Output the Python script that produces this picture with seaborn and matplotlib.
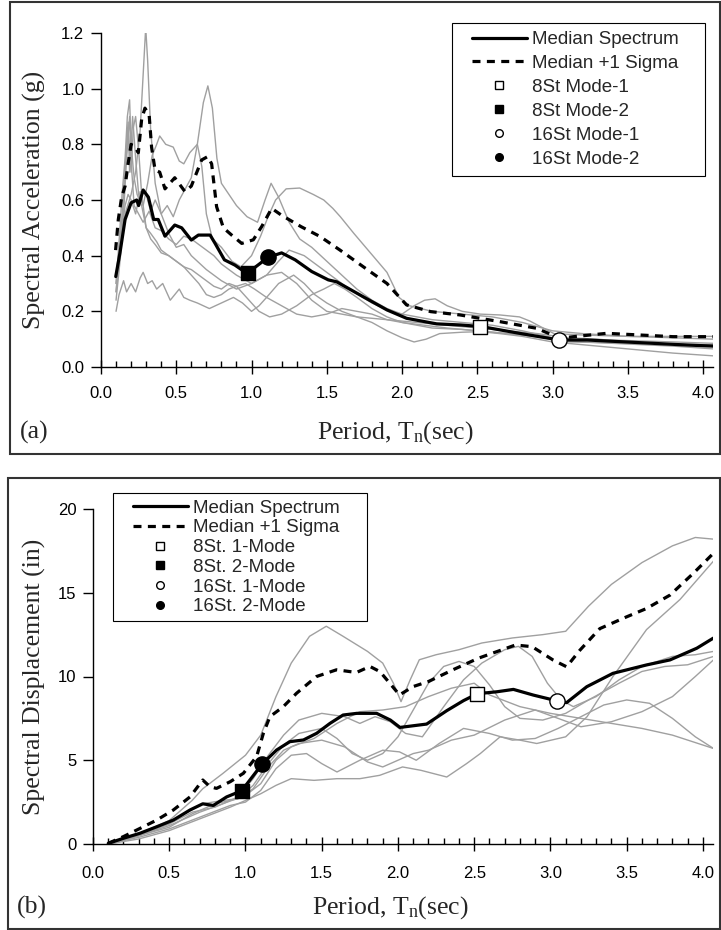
import matplotlib
matplotlib.use("Agg")
import matplotlib.pyplot as plt
import seaborn as sns
from matplotlib.lines import Line2D
from matplotlib.patches import Rectangle
from matplotlib.ticker import MultipleLocator, FormatStrFormatter

sns.set_theme(style="ticks")
plt.rcParams['font.family'] = ['Liberation Sans', 'DejaVu Sans']
plt.rcParams['mathtext.fontset'] = 'custom'
plt.rcParams['mathtext.rm'] = 'Liberation Serif'
plt.rcParams['mathtext.it'] = 'Liberation Serif:italic'

SERIF = ['Liberation Serif', 'DejaVu Serif']
GRAY = '#a0a0a0'

# ---------------- data: panel (a) spectral acceleration ----------------
med_a_t = [0.098, 0.126, 0.16, 0.20, 0.237, 0.25, 0.28, 0.315, 0.35, 0.38, 0.425, 0.49,
           0.536, 0.60, 0.647, 0.725, 0.757, 0.82, 0.89, 0.97, 1.11, 1.20, 1.29, 1.40,
           1.51, 1.566, 1.74, 1.90, 2.03, 2.23, 2.39, 2.53, 2.78, 3.045, 3.14, 3.23,
           3.45, 3.67, 3.89, 4.07]
med_a = [0.325, 0.41, 0.53, 0.59, 0.60, 0.58, 0.636, 0.61, 0.53, 0.53, 0.47, 0.51,
         0.50, 0.456, 0.474, 0.474, 0.445, 0.385, 0.366, 0.336, 0.394, 0.41, 0.385, 0.343,
         0.313, 0.306, 0.253, 0.205, 0.175, 0.155, 0.151, 0.145, 0.121, 0.097, 0.097, 0.097,
         0.091, 0.085, 0.079, 0.075]

sig_a_t = [0.097, 0.115, 0.137, 0.16, 0.18, 0.20, 0.226, 0.248, 0.27, 0.292, 0.32, 0.336,
           0.359, 0.39, 0.425, 0.49, 0.558, 0.60, 0.669, 0.709, 0.735, 0.768, 0.813, 0.868,
           0.935, 1.012, 1.067, 1.134, 1.20, 1.33, 1.455, 1.588, 1.743, 1.90, 2.03, 2.19,
           2.385, 2.65, 2.895, 3.05, 3.14, 3.36, 3.58, 3.80, 4.07]
sig_a = [0.42, 0.53, 0.61, 0.65, 0.73, 0.80, 0.79, 0.77, 0.89, 0.93, 0.905, 0.79,
         0.708, 0.70, 0.64, 0.68, 0.63, 0.65, 0.744, 0.756, 0.73, 0.576, 0.50, 0.474,
         0.444, 0.457, 0.504, 0.57, 0.545, 0.504, 0.469, 0.42, 0.36, 0.30, 0.223, 0.199,
         0.187, 0.163, 0.139, 0.103, 0.109, 0.121, 0.115, 0.109, 0.109]

rec1_a_t = [0.10, 0.13, 0.16, 0.20, 0.23, 0.26, 0.28, 0.297, 0.31, 0.33, 0.36, 0.40, 0.45, 0.50,
            0.55, 0.60, 0.70, 0.80, 0.90, 1.00, 1.10, 1.20, 1.30, 1.40, 1.50, 1.70, 1.90, 2.10,
            2.30, 2.50, 2.70, 2.90, 3.10, 3.30, 3.50, 3.70, 3.90, 4.07]
rec1_a = [0.30, 0.45, 0.55, 0.62, 0.70, 0.85, 1.05, 1.22, 1.10, 0.85, 0.66, 0.55, 0.48, 0.43,
          0.44, 0.40, 0.35, 0.31, 0.28, 0.30, 0.33, 0.34, 0.30, 0.24, 0.20, 0.18, 0.17, 0.16,
          0.15, 0.14, 0.13, 0.12, 0.105, 0.10, 0.09, 0.085, 0.08, 0.075]

rec2_a_t = [0.10, 0.12, 0.14, 0.16, 0.18, 0.20, 0.23, 0.26, 0.30, 0.33, 0.36, 0.40, 0.44, 0.48,
            0.52, 0.56, 0.60, 0.64, 0.68, 0.71, 0.74, 0.77, 0.80, 0.85, 0.90, 0.97, 1.04, 1.09,
            1.13, 1.18, 1.25, 1.32, 1.40, 1.50, 1.60, 1.70, 1.80, 1.90, 2.00, 2.20, 2.40, 2.60,
            2.80, 3.00, 3.20, 3.50, 3.80, 4.07]
rec2_a = [0.33, 0.42, 0.50, 0.58, 0.62, 0.60, 0.55, 0.63, 0.62, 0.56, 0.60, 0.55, 0.58, 0.54,
          0.60, 0.64, 0.68, 0.80, 0.95, 1.01, 0.93, 0.75, 0.66, 0.62, 0.58, 0.54, 0.52, 0.60,
          0.66, 0.61, 0.52, 0.46, 0.43, 0.38, 0.33, 0.28, 0.24, 0.21, 0.19, 0.17, 0.16, 0.15,
          0.13, 0.105, 0.10, 0.095, 0.09, 0.085]

rec3_a_t = [0.10, 0.12, 0.14, 0.16, 0.18, 0.19, 0.21, 0.23, 0.25, 0.28, 0.31, 0.34, 0.37, 0.39,
            0.43, 0.48, 0.52, 0.55, 0.59, 0.64, 0.67, 0.70, 0.74, 0.80, 0.87, 0.93, 1.00, 1.06,
            1.11, 1.16, 1.23, 1.32, 1.41, 1.48, 1.54, 1.59, 1.68, 1.79, 1.90, 1.98, 2.05, 2.20,
            2.40, 2.60, 2.80, 3.00, 3.20, 3.50, 3.80, 4.07]
rec3_a = [0.27, 0.40, 0.55, 0.72, 0.88, 0.70, 0.90, 0.75, 0.62, 0.58, 0.66, 0.76, 0.80, 0.83,
          0.80, 0.79, 0.74, 0.73, 0.77, 0.80, 0.72, 0.55, 0.46, 0.43, 0.38, 0.36, 0.40, 0.47,
          0.54, 0.60, 0.64, 0.643, 0.62, 0.60, 0.57, 0.54, 0.48, 0.41, 0.34, 0.25, 0.22, 0.20,
          0.19, 0.18, 0.16, 0.13, 0.12, 0.11, 0.105, 0.10]

rec4_a_t = [0.10, 0.12, 0.15, 0.17, 0.20, 0.23, 0.26, 0.28, 0.31, 0.34, 0.37, 0.41, 0.46, 0.49,
            0.52, 0.55, 0.59, 0.64, 0.72, 0.80, 0.88, 0.94, 1.00, 1.05, 1.10, 1.18, 1.28, 1.35,
            1.42, 1.50, 1.60, 1.70, 1.80, 1.90, 2.00, 2.08, 2.16, 2.25, 2.40, 2.52, 2.65, 2.80,
            3.00, 3.20, 3.40, 3.60, 3.80, 4.07]
rec4_a = [0.20, 0.26, 0.31, 0.27, 0.30, 0.27, 0.32, 0.34, 0.30, 0.31, 0.28, 0.30, 0.24, 0.26,
          0.28, 0.25, 0.24, 0.23, 0.21, 0.23, 0.25, 0.23, 0.20, 0.22, 0.25, 0.30, 0.33, 0.30,
          0.26, 0.23, 0.20, 0.18, 0.16, 0.13, 0.105, 0.09, 0.10, 0.12, 0.125, 0.127, 0.12, 0.11,
          0.09, 0.08, 0.07, 0.06, 0.05, 0.04]

rec5_a_t = [0.10, 0.13, 0.15, 0.17, 0.19, 0.205, 0.22, 0.25, 0.28, 0.32, 0.36, 0.40, 0.45, 0.50,
            0.55, 0.60, 0.65, 0.70, 0.75, 0.80, 0.90, 1.00, 1.10, 1.18, 1.25, 1.35, 1.45, 1.55,
            1.65, 1.80, 1.92, 2.00, 2.08, 2.15, 2.22, 2.30, 2.40, 2.52, 2.65, 2.78, 2.85, 2.92,
            3.01, 3.20, 3.50, 3.80, 4.07]
rec5_a = [0.24, 0.40, 0.55, 0.75, 0.90, 0.70, 0.58, 0.55, 0.52, 0.56, 0.50, 0.49, 0.46, 0.44,
          0.47, 0.46, 0.44, 0.42, 0.40, 0.37, 0.33, 0.30, 0.33, 0.38, 0.42, 0.40, 0.36, 0.32,
          0.28, 0.23, 0.20, 0.19, 0.22, 0.24, 0.245, 0.22, 0.20, 0.19, 0.187, 0.18, 0.165, 0.145,
          0.12, 0.115, 0.11, 0.11, 0.11]

rec6_a_t = [0.10, 0.12, 0.14, 0.16, 0.175, 0.19, 0.20, 0.22, 0.24, 0.27, 0.30, 0.33, 0.37, 0.40,
            0.45, 0.50, 0.55, 0.60, 0.65, 0.70, 0.75, 0.80, 0.85, 0.90, 0.96, 1.02, 1.10, 1.20,
            1.30, 1.40, 1.50, 1.60, 1.70, 1.80, 1.90, 2.00, 2.20, 2.40, 2.60, 2.80, 3.00, 3.20,
            3.40, 3.60, 3.80, 4.07]
rec6_a = [0.30, 0.45, 0.62, 0.75, 0.90, 0.96, 0.80, 0.68, 0.62, 0.58, 0.50, 0.48, 0.45, 0.42,
          0.40, 0.38, 0.36, 0.33, 0.30, 0.26, 0.25, 0.26, 0.28, 0.29, 0.30, 0.28, 0.25, 0.22,
          0.19, 0.18, 0.19, 0.21, 0.20, 0.19, 0.17, 0.16, 0.14, 0.135, 0.125, 0.115, 0.10, 0.09,
          0.085, 0.08, 0.075, 0.065]

rec7_a_t = [0.10, 0.12, 0.14, 0.16, 0.18, 0.20, 0.215, 0.23, 0.25, 0.27, 0.30, 0.33, 0.36, 0.40,
            0.45, 0.50, 0.55, 0.60, 0.65, 0.70, 0.75, 0.80, 0.85, 0.90, 0.95, 1.00, 1.05, 1.12,
            1.20, 1.30, 1.40, 1.48, 1.55, 1.62, 1.70, 1.80, 1.90, 2.00, 2.15, 2.30, 2.50, 2.70,
            2.90, 3.10, 3.30, 3.60, 4.07]
rec7_a = [0.27, 0.38, 0.50, 0.70, 0.86, 0.70, 0.86, 0.90, 0.78, 0.62, 0.50, 0.46, 0.44, 0.41,
          0.40, 0.38, 0.36, 0.35, 0.33, 0.31, 0.29, 0.28, 0.30, 0.29, 0.26, 0.23, 0.20, 0.18,
          0.19, 0.22, 0.26, 0.28, 0.30, 0.28, 0.25, 0.21, 0.18, 0.16, 0.15, 0.14, 0.13, 0.12,
          0.11, 0.09, 0.088, 0.085, 0.08]

# ---------------- data: panel (b) spectral displacement ----------------
med_b_t = [0.10, 0.199, 0.308, 0.418, 0.527, 0.636, 0.72, 0.789, 0.876, 0.975, 1.11, 1.204,
           1.291, 1.38, 1.467, 1.554, 1.64, 1.73, 1.86, 1.95, 2.013, 2.188, 2.32, 2.43, 2.52,
           2.65, 2.757, 2.888, 3.045, 3.106, 3.238, 3.41, 3.63, 3.784, 3.96, 4.068]
med_b = [0.04, 0.34, 0.64, 1.03, 1.43, 2.03, 2.40, 2.30, 2.81, 3.18, 4.78, 5.61,
         6.11, 6.21, 6.61, 7.20, 7.70, 7.80, 7.80, 7.4, 6.96, 7.16, 7.96, 8.56, 8.97,
         9.09, 9.23, 8.89, 8.54, 8.44, 9.39, 10.19, 10.69, 10.99, 11.69, 12.29]

sig_b_t = [0.10, 0.199, 0.308, 0.418, 0.527, 0.636, 0.72, 0.767, 0.81, 0.90, 0.986, 1.073,
           1.117, 1.16, 1.248, 1.335, 1.466, 1.597, 1.728, 1.816, 1.882, 1.947, 2.01, 2.1,
           2.2, 2.36, 2.53, 2.77, 2.88, 3.018, 3.106, 3.193, 3.324, 3.499, 3.63, 3.784, 3.937,
           4.068]
sig_b = [0.04, 0.44, 0.93, 1.43, 2.03, 2.81, 3.82, 3.42, 3.32, 3.72, 4.22, 5.22,
         6.6, 7.6, 8.2, 9.0, 10.0, 10.4, 10.24, 10.6, 10.29, 9.59, 8.9, 9.4,
         9.7, 10.4, 11.1, 11.88, 11.78, 10.98, 10.58, 11.57, 12.86, 13.56, 14.06, 14.86, 16.16,
         17.35]

rec1_b_t = [0.10, 0.30, 0.50, 0.65, 0.72, 0.85, 1.00, 1.10, 1.20, 1.30, 1.42, 1.53, 1.64, 1.80,
            1.90, 1.97, 2.02, 2.08, 2.14, 2.25, 2.40, 2.55, 2.75, 2.95, 3.10, 3.25, 3.40, 3.60,
            3.80, 3.95, 4.07]
rec1_b = [0.0, 0.6, 1.4, 2.6, 3.3, 4.2, 5.3, 6.5, 8.8, 10.8, 12.4, 13.0, 12.4, 11.5,
          10.8, 9.6, 8.5, 9.8, 11.0, 11.3, 11.6, 12.0, 12.3, 12.5, 12.7, 14.2, 15.5, 16.8,
          17.8, 18.3, 18.2]

rec2_b_t = [0.10, 0.30, 0.50, 0.70, 0.90, 1.00, 1.10, 1.20, 1.30, 1.45, 1.60, 1.75, 1.88, 2.03,
            2.15, 2.32, 2.45, 2.54, 2.67, 2.80, 2.91, 3.10, 3.24, 3.41, 3.63, 3.85, 4.07]
rec2_b = [0.0, 0.3, 0.8, 1.5, 2.2, 2.6, 3.0, 3.5, 3.9, 3.8, 3.9, 3.9, 4.1, 4.6,
          4.4, 4.0, 4.8, 5.4, 6.4, 6.2, 6.0, 6.4, 7.6, 10.0, 12.8, 14.6, 16.9]

rec3_b_t = [0.10, 0.30, 0.50, 0.70, 0.85, 1.00, 1.10, 1.20, 1.30, 1.45, 1.60, 1.75, 1.90, 2.05,
            2.20, 2.35, 2.50, 2.60, 2.80, 3.00, 3.20, 3.40, 3.60, 3.80, 4.07]
rec3_b = [0.0, 0.5, 1.1, 1.9, 2.4, 2.9, 3.6, 5.0, 5.8, 6.3, 7.2, 7.9, 8.0, 8.2,
          8.8, 9.3, 9.6, 8.9, 8.2, 7.8, 7.5, 7.2, 6.9, 6.5, 5.7]

rec4_b_t = [0.10, 0.30, 0.50, 0.70, 0.90, 1.00, 1.10, 1.20, 1.30, 1.40, 1.50, 1.60, 1.75, 1.90,
            2.01, 2.12, 2.27, 2.43, 2.60, 2.75, 2.90, 3.05, 3.20, 3.35, 3.50, 3.65, 3.80, 3.95,
            4.07]
rec4_b = [0.0, 0.4, 0.9, 1.6, 2.3, 2.5, 3.2, 4.5, 5.3, 5.4, 4.8, 4.3, 5.0, 5.6,
          5.5, 5.0, 6.0, 6.9, 6.6, 6.2, 6.3, 6.9, 7.6, 8.3, 8.6, 8.4, 7.5, 6.4,
          5.7]

rec5_b_t = [0.10, 0.30, 0.50, 0.65, 0.80, 0.95, 1.05, 1.15, 1.25, 1.35, 1.50, 1.65, 1.75, 1.85,
            1.95, 2.05, 2.16, 2.30, 2.43, 2.55, 2.70, 2.79, 2.88, 2.98, 3.07, 3.15, 3.30, 3.45,
            3.60, 3.80, 3.95, 4.07]
rec5_b = [0.0, 0.6, 1.2, 1.9, 2.2, 2.8, 3.9, 5.3, 6.5, 7.4, 7.8, 7.6, 7.2, 7.6,
          7.3, 6.6, 6.4, 8.2, 9.8, 10.8, 11.6, 11.8, 11.2, 9.6, 8.6, 8.2, 8.8, 9.8,
          10.6, 11.2, 11.3, 11.5]

rec6_b_t = [0.10, 0.30, 0.50, 0.65, 0.80, 0.95, 1.05, 1.15, 1.25, 1.35, 1.50, 1.60, 1.70, 1.80,
            1.90, 2.00, 2.10, 2.20, 2.30, 2.40, 2.50, 2.60, 2.70, 2.80, 2.95, 3.10, 3.25, 3.45,
            3.60, 3.75, 3.90, 4.07]
rec6_b = [0.0, 0.5, 1.0, 1.8, 2.4, 2.7, 3.5, 4.8, 5.9, 6.6, 6.9, 6.3, 5.4, 5.0,
          5.4, 6.4, 8.0, 9.6, 10.6, 10.9, 10.6, 9.5, 8.2, 7.5, 7.4, 7.8, 8.6, 9.6,
          10.3, 10.6, 10.7, 11.2]

rec7_b_t = [0.10, 0.30, 0.50, 0.60, 0.72, 0.85, 0.95, 1.05, 1.15, 1.25, 1.35, 1.50, 1.65, 1.80,
            1.90, 2.00, 2.10, 2.20, 2.35, 2.50, 2.70, 2.90, 3.05, 3.20, 3.40, 3.60, 3.80, 3.95,
            4.07]
rec7_b = [0.0, 0.5, 1.2, 1.8, 2.4, 2.6, 2.7, 3.3, 4.6, 5.6, 6.0, 6.2, 5.8, 4.9,
          4.6, 5.0, 5.4, 5.6, 6.2, 6.5, 7.4, 8.0, 7.5, 7.0, 7.3, 7.9, 8.8, 10.0,
          11.0]

# modal periods and spectral values (8St M1, 8St M2, 16St M1, 16St M2)
mode_t = [2.52, 0.975, 3.045, 1.11]
mode_sa = [0.145, 0.336, 0.097, 0.394]
mode_sd = [8.97, 3.18, 8.54, 4.78]
mode_marker = ['s', 's', 'o', 'o']
mode_face = ['white', 'black', 'white', 'black']

labels_a = ['Median Spectrum', 'Median +1 Sigma', '8St Mode-1', '8St Mode-2',
            '16St Mode-1', '16St Mode-2']
labels_b = ['Median Spectrum', 'Median +1 Sigma', '8St. 1-Mode', '8St. 2-Mode',
            '16St. 1-Mode', '16St. 2-Mode']

recs_a = [(rec1_a_t, rec1_a), (rec2_a_t, rec2_a), (rec3_a_t, rec3_a), (rec4_a_t, rec4_a),
          (rec5_a_t, rec5_a), (rec6_a_t, rec6_a), (rec7_a_t, rec7_a)]
recs_b = [(rec1_b_t, rec1_b), (rec2_b_t, rec2_b), (rec3_b_t, rec3_b), (rec4_b_t, rec4_b),
          (rec5_b_t, rec5_b), (rec6_b_t, rec6_b), (rec7_b_t, rec7_b)]

DASH = (0, (2.5, 2.0))
LEG_FS = 13.5

fig = plt.figure(figsize=(7.21, 9.30), dpi=100)
ax_a = fig.add_axes([101 / 721, 1 - 367 / 930, 612 / 721, 334 / 930])
ax_b = fig.add_axes([93 / 721, 1 - 844 / 930, 620 / 721, 335 / 930])


def draw_panel(ax, recs, mt, mv, st, sv, mode_v, xpad):
    for t, v in recs:
        sns.lineplot(x=t, y=v, ax=ax, color=GRAY, lw=1.0, estimator=None, sort=False,
                     legend=False)
    sns.lineplot(x=st, y=sv, ax=ax, color='black', lw=2.3, linestyle=DASH,
                 estimator=None, sort=False, legend=False)
    sns.lineplot(x=mt, y=mv, ax=ax, color='black', lw=2.3, estimator=None, sort=False,
                 legend=False)
    for t, v, m, fc in zip(mode_t, mode_v, mode_marker, mode_face):
        sns.scatterplot(x=[t], y=[v], ax=ax, marker=m, s=100 if m == 's' else 120,
                        color=fc, edgecolor='black', linewidth=1.0, zorder=5, legend=False)
    sns.despine(ax=ax)
    ax.set_xlim(0, 4.066)
    ax.xaxis.set_major_locator(MultipleLocator(0.5))
    ax.xaxis.set_minor_locator(MultipleLocator(0.1))
    ax.xaxis.set_major_formatter(FormatStrFormatter('%.1f'))
    ax.tick_params(axis='x', which='major', direction='inout', length=10, width=1,
                   labelsize=12, pad=xpad, colors='black')
    ax.tick_params(axis='x', which='minor', direction='in', length=4, width=1, colors='black')
    ax.tick_params(axis='y', which='major', direction='out', length=7, width=1,
                   labelsize=12, pad=5, colors='black')
    for s in ['left', 'bottom']:
        ax.spines[s].set_color('black')
        ax.spines[s].set_linewidth(1.0)
    ax.set_facecolor('white')


def legend_handles():
    return [Line2D([], [], color='black', lw=2.3),
            Line2D([], [], color='black', lw=2.3, linestyle=DASH),
            Line2D([], [], marker='s', ls='none', mfc='white', mec='black', ms=5.5, mew=1),
            Line2D([], [], marker='s', ls='none', mfc='black', mec='black', ms=5.5, mew=1),
            Line2D([], [], marker='o', ls='none', mfc='white', mec='black', ms=5.5, mew=1),
            Line2D([], [], marker='o', ls='none', mfc='black', mec='black', ms=5.5, mew=1)]


def legend_box(ax, x0, y0, x1, y1, left_px, bottom_px, w_px, h_px):
    # frame drawn in pixel-derived axes coordinates
    ax.add_patch(Rectangle(((x0 - left_px) / w_px, (bottom_px - y1) / h_px),
                           (x1 - x0) / w_px, (y1 - y0) / h_px, transform=ax.transAxes,
                           clip_on=False, facecolor='white', edgecolor='black', lw=0.8,
                           zorder=4.9))


# panel (a)
draw_panel(ax_a, recs_a, med_a_t, med_a, sig_a_t, sig_a, mode_sa, 8.5)
ax_a.set_ylim(0, 1.2)
ax_a.yaxis.set_major_locator(MultipleLocator(0.2))
ax_a.yaxis.set_major_formatter(FormatStrFormatter('%.1f'))
ax_a.set_ylabel('Spectral Acceleration (g)', fontsize=18.5, family=SERIF, va='center')
ax_a.yaxis.set_label_coords((34 - 101) / 612, 0.5)
ax_a.set_xlabel('Period, T$_{\\rm n}$(sec)', fontsize=18.5, family=SERIF, va='center')
ax_a.xaxis.set_label_coords((395 - 101) / 612, (367 - 433) / 334)
legend_box(ax_a, 452, 23, 705, 176, 101, 367, 612, 334)
leg_a = ax_a.legend(legend_handles(), labels_a, loc='upper left',
                    bbox_to_anchor=((472 - 101) / 612, (367 - 31) / 334), borderaxespad=0,
                    fontsize=LEG_FS, handlelength=2.93, handletextpad=0.27, labelspacing=0.36,
                    borderpad=0, frameon=False)
leg_a.set_zorder(6)

# panel (b)
draw_panel(ax_b, recs_b, med_b_t, med_b, sig_b_t, sig_b, mode_sd, 10.7)
ax_b.set_ylim(0, 20)
ax_b.yaxis.set_major_locator(MultipleLocator(5))
ax_b.yaxis.set_major_formatter(FormatStrFormatter('%d'))
ax_b.set_ylabel('Spectral Displacement (in)', fontsize=18.5, family=SERIF, va='center')
ax_b.yaxis.set_label_coords((34 - 93) / 620, 0.5)
ax_b.set_xlabel('Period, T$_{\\rm n}$(sec)', fontsize=18.5, family=SERIF, va='center')
ax_b.xaxis.set_label_coords((390 - 93) / 620, (844 - 908) / 335)
legend_box(ax_b, 113, 493, 367, 621, 93, 844, 620, 335)
leg_b = ax_b.legend(legend_handles(), labels_b, loc='upper left',
                    bbox_to_anchor=((133 - 93) / 620, (844 - 499.5) / 335), borderaxespad=0,
                    fontsize=LEG_FS, handlelength=2.93, handletextpad=0.27, labelspacing=0.14,
                    borderpad=0, frameon=False)
leg_b.set_zorder(6)

# panel tags and outer frames
fig.text(20 / 721, 1 - 432 / 930, '(a)', fontsize=18.5, family=SERIF, ha='left', va='center')
fig.text(17 / 721, 1 - 907 / 930, '(b)', fontsize=18.5, family=SERIF, ha='left', va='center')
fig.add_artist(Rectangle((10 / 721, 1 - 454 / 930), 709.5 / 721, 452 / 930,
                         transform=fig.transFigure, fill=False, edgecolor='#333333', lw=1.5))
fig.add_artist(Rectangle((8 / 721, 1.5 / 930), 711.5 / 721, 450 / 930,
                         transform=fig.transFigure, fill=False, edgecolor='#333333', lw=1.5))

fig.savefig('out.png', dpi=100, facecolor='white')
